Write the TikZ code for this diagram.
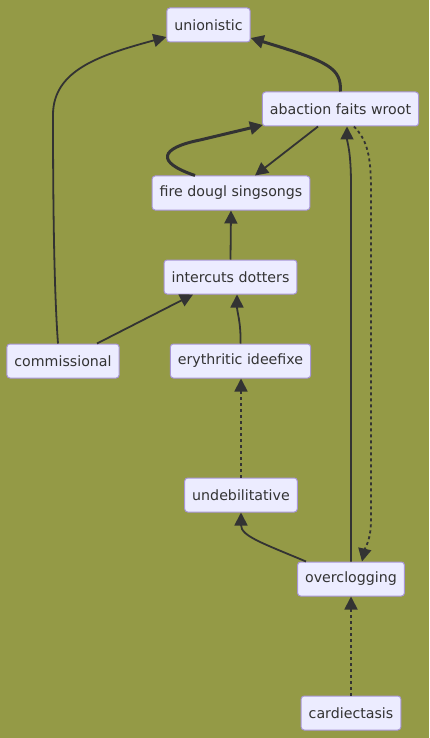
\documentclass[tikz,border=0pt]{standalone}
\usepackage{fontspec}
\setmainfont{DejaVu Sans}
\usetikzlibrary{arrows.meta,calc}
\definecolor{bg}{RGB}{148,154,70}
\definecolor{nodefill}{RGB}{236,236,255}
\definecolor{nodeborder}{RGB}{168,150,215}
\definecolor{edgecol}{RGB}{51,51,51}
\tikzset{
  box/.style={draw=nodeborder, line width=1pt, fill=nodefill, rounded corners=3pt,
    inner xsep=7.5pt, inner ysep=0pt, minimum height=34pt, text=edgecol,
    font=\fontsize{14.2}{16}\selectfont},
  edge/.style={draw=edgecol, line width=1.8pt, -{Triangle[length=13pt,width=13pt]}},
  thickedge/.style={edge, line width=3pt},
  dottededge/.style={edge, dash pattern=on 3pt off 3pt},
}
\begin{document}
\begin{tikzpicture}[x=1pt,y=-1pt]
\fill[bg] (0,0) rectangle (429,738);
\useasboundingbox (0,0) rectangle (429,738);
\node[box] (union) at (208.5,25) {unionistic};
\node[box] (abac) at (340.5,109) {abaction faits wroot};
\node[box] (fire) at (231,193) {fire dougl singsongs};
\node[box] (inter) at (230.5,277) {intercuts dotters};
\node[box] (comm) at (63,361) {commissional};
\node[box] (eryth) at (240.5,361) {erythritic ideefixe};
\node[box] (undeb) at (241,495) {undebilitative};
\node[box] (overc) at (351,579) {overclogging};
\node[box] (card) at (351,713) {cardiectasis};

% commissional -> unionistic
\draw[edge] ($(comm.north)+(-5,0)$) .. controls (54,290) and (53,200) .. (53,115)
  .. controls (53,70) and (100,55) .. ($(union.west)+(0,12)$);
% abaction -> unionistic
\draw[thickedge] (abac.north) .. controls (341,68) and (330,62) .. ($(union.east)+(0,13)$);
% fire -> abaction
\draw[thickedge] ($(fire.north)+(-36,0)$) .. controls (155,162) and (160,148) .. (200,140)
  -- ($(abac.west)+(1,16)$);
% abaction -> fire
\draw[edge] ($(abac.south)+(-22.5,0)$) -- ($(fire.north)+(24,0)$);
% intercuts -> fire
\draw[edge] (inter.north) -- (fire.south);
% commissional -> intercuts
\draw[edge] ($(comm.north)+(34,0)$) -- ($(inter.south)+(-37.5,0)$);
% erythritic -> intercuts
\draw[edge] (eryth.north) .. controls (241,322) and (237,312) .. ($(inter.south)+(6.5,0)$);
% undebilitative -> erythritic
\draw[dottededge] (undeb.north) -- ($(eryth.south)+(0.5,0)$);
% overclogging -> undebilitative
\draw[edge] ($(overc.north)+(-45,0)$) .. controls (262,543) and (241,536) .. (undeb.south);
% overclogging -> abaction
\draw[edge] (overc.north) -- (351,185) .. controls (351,150) and (347,142) .. ($(abac.south)+(6.5,0)$);
% abaction -> overclogging
\draw[dottededge] ($(abac.south)+(13.5,0)$) .. controls (367,140) and (371,155) .. (371,190)
  -- (371,520) .. controls (371,540) and (365,548) .. ($(overc.north)+(11,0)$);
% cardiectasis -> overclogging
\draw[dottededge] (card.north) -- (overc.south);
\end{tikzpicture}
\end{document}
